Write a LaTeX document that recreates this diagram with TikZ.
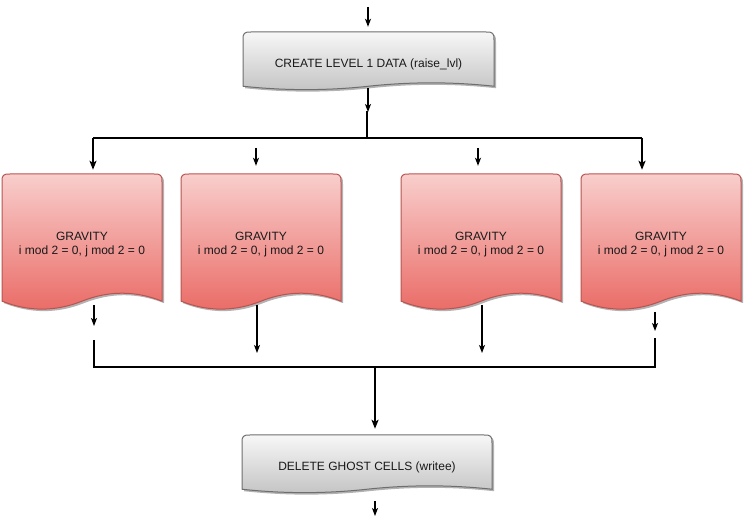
\documentclass[tikz,border=0pt]{standalone}
\usepackage{fontspec}
\setmainfont{Liberation Sans}
\usetikzlibrary{arrows.meta,shadows}
\definecolor{grayTop}{HTML}{F7F7F7}
\definecolor{grayBot}{HTML}{C4C4C4}
\definecolor{grayLine}{HTML}{6E6E6E}
\definecolor{redTop}{HTML}{F8CECC}
\definecolor{redBot}{HTML}{EA6B66}
\definecolor{redLine}{HTML}{B85450}
\tikzset{
  docshadow/.style={drop shadow={shadow xshift=2pt, shadow yshift=-2pt, opacity=.3, fill=black}},
  graydoc/.style={draw=grayLine, line width=1pt, top color=grayTop, bottom color=grayBot, docshadow},
  reddoc/.style={draw=redLine, line width=1pt, top color=redTop, bottom color=redBot, docshadow},
  lbl/.style={font=\fontsize{12}{14}\selectfont, text=black!90, align=center},
  arr/.style={line width=1.1pt, -{Stealth[length=8pt,width=6pt,inset=2pt]}},
  bus/.style={line width=1.8pt},
  busarr/.style={line width=1.8pt, -{Stealth[length=9pt,width=7pt,inset=2pt]}},
}
% #1 name, #2 left x, #3 top y, #4 width, #5 height, #6 style, #7 text
\newcommand\docnode[7]{%
  \pgfmathsetmacro\dnXa{#2}%
  \pgfmathsetmacro\dnXb{#2+#4}%
  \pgfmathsetmacro\dnYa{#3}%
  \pgfmathsetmacro\dnDy{0.13*#5}%
  \pgfmathsetmacro\dnYe{#3+#5-\dnDy/2}%
  \pgfmathsetmacro\dnYu{#3+#5-1.1*\dnDy}%
  \pgfmathsetmacro\dnYd{#3+#5+0.1*\dnDy}%
  \pgfmathsetmacro\dnXc{#2+5*#4/6}%
  \pgfmathsetmacro\dnXd{#2+2*#4/3}%
  \pgfmathsetmacro\dnXm{#2+#4/2}%
  \pgfmathsetmacro\dnXf{#2+#4/3}%
  \pgfmathsetmacro\dnXg{#2+#4/6}%
  \path[#6] (\dnXa,\dnYa+8) .. controls (\dnXa,\dnYa+1) and (\dnXa+1,\dnYa) .. (\dnXa+8,\dnYa)
    -- (\dnXb-8,\dnYa) .. controls (\dnXb-1,\dnYa) and (\dnXb,\dnYa+1) .. (\dnXb,\dnYa+8)
    -- (\dnXb,\dnYe) .. controls (\dnXc,\dnYu) and (\dnXd,\dnYu) .. (\dnXm,\dnYe)
    .. controls (\dnXf,\dnYd) and (\dnXg,\dnYd) .. (\dnXa,\dnYe) -- cycle;
  \node[lbl, minimum width=#4pt, minimum height=#5pt+6pt, inner sep=0pt] (#1)
    at (\dnXm,#3+#5/2+3) {#7};
}
\begin{document}
\begin{tikzpicture}[x=1pt,y=-1pt]
\useasboundingbox (0,0) rectangle (745,529);

\docnode{create}{243}{32}{251}{58}{graydoc}{CREATE LEVEL 1 DATA (raise\_lvl)}
\docnode{g1}{2}{174}{160}{136}{reddoc}{GRAVITY\\i mod 2 = 0, j mod 2 = 0}
\docnode{g2}{181}{174}{160}{136}{reddoc}{GRAVITY\\i mod 2 = 0, j mod 2 = 0}
\docnode{g3}{401}{174}{160}{136}{reddoc}{GRAVITY\\i mod 2 = 0, j mod 2 = 0}
\docnode{g4}{581}{174}{160}{136}{reddoc}{GRAVITY\\i mod 2 = 0, j mod 2 = 0}
\docnode{del}{242}{435}{250}{58}{graydoc}{DELETE GHOST CELLS (writee)}

% top input
\coordinate (in) at (368,7);
\draw[arr, shorten >=5pt] (in) -- (in |- create.north);
% create -> split
\coordinate (j1) at (368,112);
\draw[arr, shorten <=-8pt] (create.south -| j1) -- (j1);
\coordinate (j1b) at (367,111);
\coordinate (split) at (367,138);
\draw[bus] (j1b) -- (split);
\coordinate (c1) at (93,138);
\coordinate (c4) at (642,138);
\draw[bus] (c1) -- (c4);
\draw[busarr, shorten >=4pt] (c1) -- (c1 |- g1.north);
\draw[busarr, shorten >=4pt] (c4) -- (c4 |- g4.north);
% small stray arrows above g2, g3
\coordinate (s2) at (256,148);
\coordinate (s3) at (478,148);
\draw[arr, shorten >=8pt] (s2) -- (s2 |- g2.north);
\draw[arr, shorten >=8pt] (s3) -- (s3 |- g3.north);

% below gravity boxes
\coordinate (b1) at (94,305);  \coordinate (b1e) at (94,326);
\coordinate (b2) at (257,305); \coordinate (b2e) at (257,353);
\coordinate (b3) at (482,305); \coordinate (b3e) at (482,353);
\coordinate (b4) at (655,312); \coordinate (b4e) at (655,331);
\draw[arr] (b1) -- (b1e);
\draw[arr] (b2) -- (b2e);
\draw[arr] (b3) -- (b3e);
\draw[arr] (b4) -- (b4e);

% collecting bracket
\coordinate (k1) at (94,340);
\coordinate (k2) at (94,367);
\coordinate (k3) at (655,367);
\coordinate (k4) at (655,338);
\draw[bus] (k1) -- (k2) -- (k3) -- (k4);
\coordinate (m) at (375,367);
\draw[busarr, shorten >=6pt] (m) -- (m |- del.north);

% output
\coordinate (out) at (375,516);
\draw[arr, shorten <=2pt] (del.south -| out) -- (out);
\end{tikzpicture}
\end{document}
